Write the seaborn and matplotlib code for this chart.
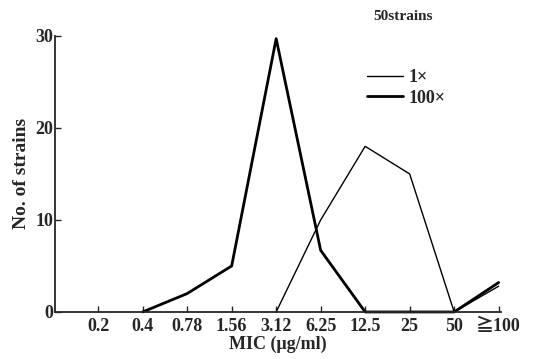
import numpy as np
import pandas as pd
import matplotlib
matplotlib.use('Agg')
import matplotlib.pyplot as plt
import seaborn as sns

mic_labels = ['0.2', '0.4', '0.78', '1.56', '3.12', '6.25', '12.5', '25', '50', '≧100']
thin_pos = [4, 5, 6, 7, 8, 9]
thin_counts = [0, 10, 18, 15, 0, 2.8]
thick_pos = [1, 2, 3, 4, 5, 6, 7, 8, 9]
thick_counts = [0, 2, 5, 29.7, 6.7, 0, 0, 0, 3.2]

sns.set_style('ticks')
plt.rcParams['font.family'] = ['Liberation Serif', 'Noto Sans CJK JP', 'DejaVu Serif']

fig = plt.figure(figsize=(5.34, 3.59), dpi=100)
ax = fig.add_axes([0.103, 0.131, 0.835, 0.769])

df_thin = pd.DataFrame({'pos': thin_pos, 'n': thin_counts})
df_thick = pd.DataFrame({'pos': thick_pos, 'n': thick_counts})
sns.lineplot(data=df_thin, x='pos', y='n', ax=ax, color='black', lw=1.0, label='1×', clip_on=False)
sns.lineplot(data=df_thick, x='pos', y='n', ax=ax, color='black', lw=2.0, label='100×', clip_on=False)

ax.set_xlim(-0.97, 9.05)
ax.set_ylim(0, 30)
ax.set_xticks(range(len(mic_labels)))
ax.set_xticklabels(mic_labels, fontweight='bold', fontsize=13)
ax.set_yticks([0, 10, 20, 30])
ax.set_yticklabels(['0', '10', '20', '30'], fontweight='bold', fontsize=13)
ax.tick_params(axis='x', direction='in', length=4, width=1, pad=4)
ax.tick_params(axis='y', direction='in', length=4, width=1, pad=1)
sns.despine(ax=ax)
ax.spines['left'].set_linewidth(1.3)
ax.spines['bottom'].set_linewidth(1.3)

ax.set_xlabel('MIC (μg/ml)', fontweight='bold', fontsize=13, labelpad=1)
ax.set_ylabel('No. of strains', fontweight='bold', fontsize=14, labelpad=4)

leg = ax.legend(loc='upper left', bbox_to_anchor=(0.70, 0.88), frameon=False,
                handlelength=2.0, handletextpad=0.3, labelspacing=0.2,
                borderpad=0, borderaxespad=0,
                prop={'weight': 'bold', 'size': 13})
fig.text(0.70, 0.955, '50strains', fontweight='bold', fontsize=11, ha='left', va='center')

fig.savefig('out.png', dpi=100)
